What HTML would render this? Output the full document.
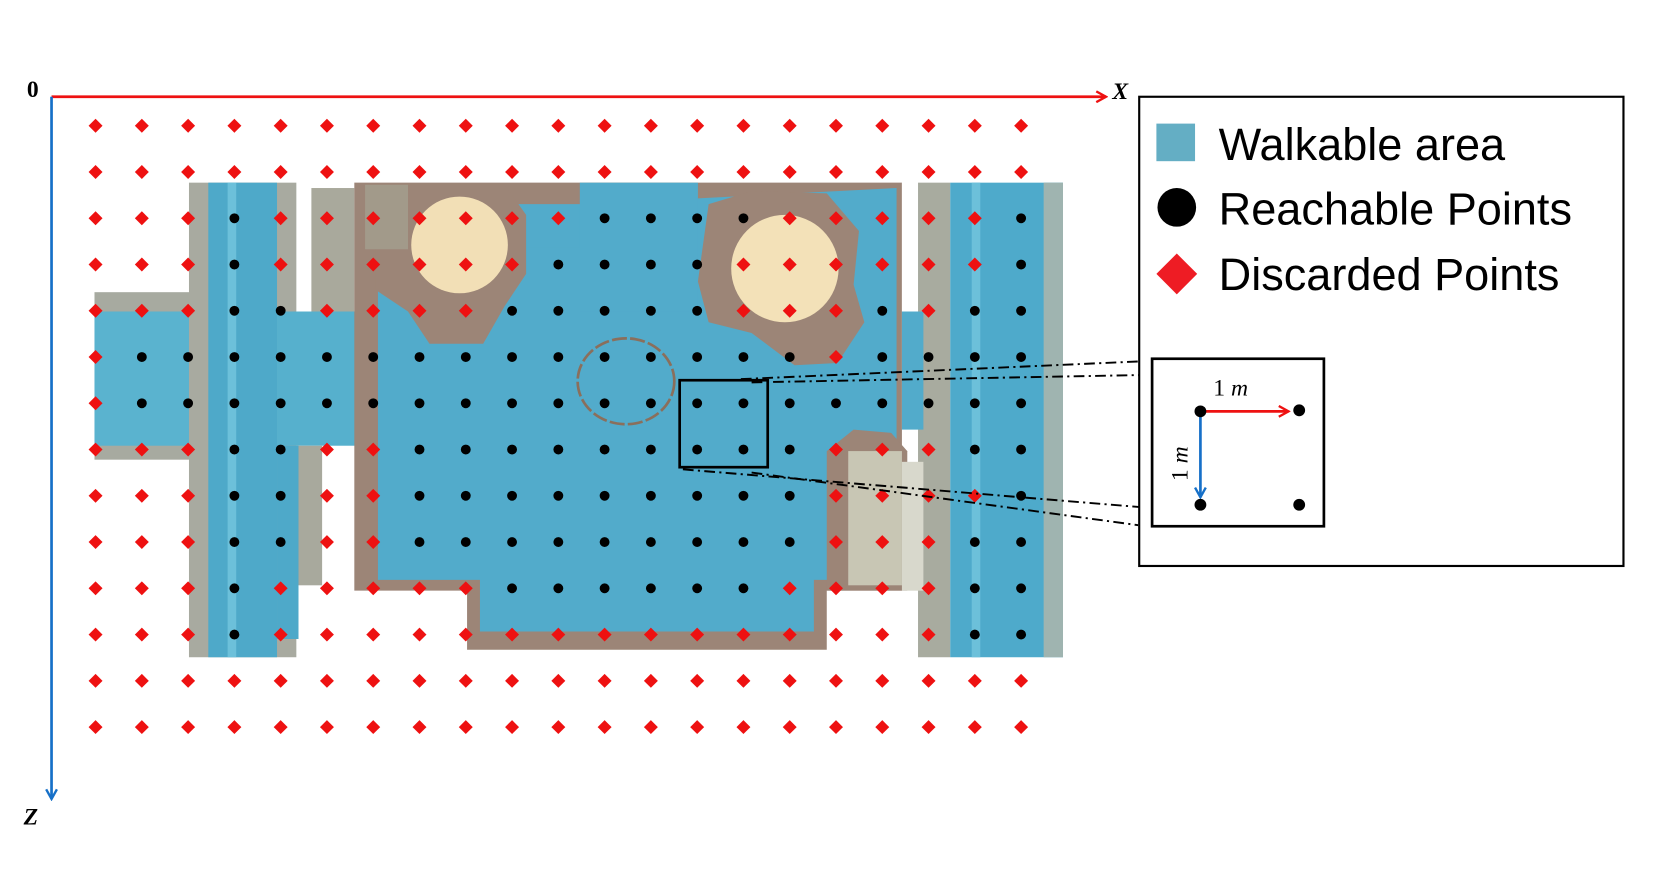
<!DOCTYPE html>
<html><head><meta charset="utf-8"><style>
html,body{margin:0;padding:0;background:#fff;}
svg{display:block;}
</style></head><body>
<svg id="s" width="1675" height="885" viewBox="0 0 1560 824" xmlns="http://www.w3.org/2000/svg">
<defs>
<marker id="ar" markerWidth="12" markerHeight="12" refX="10" refY="6" orient="auto" markerUnits="userSpaceOnUse">
<path d="M1,1 L10,6 L1,11" fill="none" stroke="#ee1111" stroke-width="2.2"/></marker>
<marker id="ab" markerWidth="12" markerHeight="12" refX="10" refY="6" orient="auto" markerUnits="userSpaceOnUse">
<path d="M1,1 L10,6 L1,11" fill="none" stroke="#1670c8" stroke-width="2.2"/></marker>
</defs>
<rect width="1560" height="824" fill="#fff"/>
<g>
<rect x="88" y="272" width="100" height="156" fill="#a7aaa0"/>
<rect x="88" y="290" width="100" height="125" fill="#5ab3cf"/>
<rect x="176" y="170" width="100" height="442" fill="#a8aaa0"/>
<rect x="194" y="170" width="64" height="442" fill="#4ea9c9"/>
<rect x="212" y="170" width="8" height="442" fill="#6cc0da"/>
<rect x="290" y="175" width="40" height="115" fill="#a9a99c"/>
<rect x="258" y="290" width="95" height="125" fill="#56b0cd"/>
<rect x="270" y="415" width="30" height="130" fill="#a8a99d"/>
<rect x="258" y="415" width="20" height="180" fill="#4ea9c9"/>
<polygon points="330,170 840,170 840,550 770,550 770,605 435,605 435,550 330,550" fill="#9c8577"/>
<polygon points="352,200 835,175 835,540 758,540 758,588 447,588 447,540 352,540" fill="#52abcb"/>
<rect x="380" y="190" width="160" height="40" fill="#52abcb"/>
<rect x="540" y="170" width="110" height="120" fill="#52abcb"/>
<polygon points="350,185 380,172 470,172 490,200 490,255 470,285 450,320 400,320 380,290 350,270" fill="#9c8577"/>
<rect x="340" y="172" width="40" height="60" fill="#a29a8a"/>
<circle cx="428" cy="228" r="45" fill="#f2dfb6"/>
<polygon points="660,190 700,178 770,180 800,215 795,265 805,300 780,338 740,340 700,310 660,300 650,262" fill="#9c8577"/>
<circle cx="731" cy="250" r="50" fill="#f3e1b8"/>
<ellipse cx="583" cy="355" rx="45" ry="40" fill="none" stroke="#8a6f5c" stroke-width="2.5" stroke-dasharray="14,3"/>
<polygon points="770,420 795,400 830,403 845,420 845,550 770,550" fill="#9c8577"/>
<rect x="790" y="420" width="50" height="125" fill="#c8c6b4"/>
<rect x="840" y="170" width="45" height="120" fill="#ffffff"/>
<rect x="855" y="170" width="30" height="442" fill="#a8ab9f"/>
<rect x="840" y="290" width="20" height="110" fill="#52abcb"/>
<rect x="840" y="430" width="20" height="120" fill="#d8d8cc"/>
<rect x="885" y="170" width="105" height="442" fill="#4eaacb"/>
<rect x="905" y="170" width="8" height="442" fill="#6cc0da"/>
<rect x="972" y="170" width="18" height="442" fill="#9fb4b0"/>
</g>
<g id="pts"></g>
<line x1="48" y1="90" x2="1030" y2="90" stroke="#ee1111" stroke-width="2.5" marker-end="url(#ar)"/>
<line x1="48" y1="90" x2="48" y2="744" stroke="#1670c8" stroke-width="2.5" marker-end="url(#ab)"/>
<text x="25" y="90" font-family="Liberation Serif, serif" font-weight="bold" font-size="22">0</text>
<text x="1036" y="92" font-family="Liberation Serif, serif" font-weight="bold" font-style="italic" font-size="22">X</text>
<text x="22" y="768" font-family="Liberation Serif, serif" font-weight="bold" font-style="italic" font-size="22">Z</text>
<rect x="633" y="354" width="82" height="81" fill="none" stroke="#000" stroke-width="2.5"/>
<g stroke="#000" stroke-width="1.8" stroke-dasharray="10,4,2,4" fill="none">
<line x1="690" y1="353" x2="1072" y2="336"/>
<line x1="700" y1="356" x2="1072" y2="349"/>
<line x1="636" y1="437" x2="1072" y2="473"/>
<line x1="700" y1="440" x2="1060" y2="489"/>
</g>
<rect x="1061" y="90" width="451" height="437" fill="#fff" stroke="#000" stroke-width="2"/>
<rect x="1077" y="115" width="36" height="35" fill="#64aec4"/>
<circle cx="1096" cy="193" r="18" fill="#000"/>
<polygon points="1096,236 1115,255 1096,274 1077,255" fill="#ee1c24"/>
<g font-family="Liberation Sans, sans-serif" font-size="42" fill="#000">
<text x="1135" y="149">Walkable area</text>
<text x="1135" y="209">Reachable Points</text>
<text x="1135" y="270">Discarded Points</text>
</g>
<rect x="1073" y="334" width="160" height="156" fill="#fff" stroke="#000" stroke-width="2.5"/>
<line x1="1118" y1="383" x2="1200" y2="383" stroke="#ee1111" stroke-width="2.5" marker-end="url(#ar)"/>
<line x1="1118" y1="383" x2="1118" y2="463" stroke="#1670c8" stroke-width="2.5" marker-end="url(#ab)"/>
<circle cx="1118" cy="383" r="5.5" fill="#000"/>
<circle cx="1210" cy="382" r="5.5" fill="#000"/>
<circle cx="1118" cy="470" r="5.5" fill="#000"/>
<circle cx="1210" cy="470" r="5.5" fill="#000"/>
<text x="1130" y="368" font-family="Liberation Serif, serif" font-size="22">1 <tspan font-style="italic">m</tspan></text>
<text transform="translate(1106,448) rotate(-90)" font-family="Liberation Serif, serif" font-size="22">1 <tspan font-style="italic">m</tspan></text>
</svg>
<script>
var rows=["rrrrrrrrrrrrrrrrrrrrr","rrrrrrrrrrrrrrrrrrrrr","rrrbrrrrrrrbbbbrrrrrb","rrrbrrrrrrbbbbrrrrrrb","rrrbbrrrrbbbbbrrrbrbb","rbbbbbbbbbbbbbbbrbbbb","rbbbbbbbbbbbbbbbbbbbb","rrrbbrrbbbbbbbbbrrrbb","rrrbbrrbbbbbbbbbrrrrb","rrrbbrrbbbbbbbbbrrrbb","rrrbrrrrrbbbbbbrrrrbb","rrrbrrrrrrrrrrrrrrrbb","rrrrrrrrrrrrrrrrrrrrr","rrrrrrrrrrrrrrrrrrrrr"];
var g=document.getElementById('pts'),h="";
for(var r=0;r<rows.length;r++)for(var c=0;c<21;c++){var x=89+c*43.1,y=117+r*43.08,d=6.5;
if(rows[r][c]=='b')h+='<circle cx="'+x+'" cy="'+y+'" r="4.6" fill="#000"/>';
else h+='<polygon points="'+x+','+(y-d)+' '+(x+d)+','+y+' '+x+','+(y+d)+' '+(x-d)+','+y+'" fill="#ee1111"/>';}
g.innerHTML=h;
</script>
</body></html>
